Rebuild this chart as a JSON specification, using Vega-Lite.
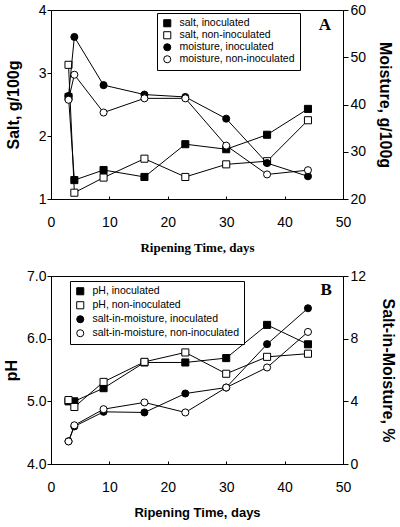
{
  "$schema": "https://vega.github.io/schema/vega-lite/v6.json",
  "padding": {"left": 3, "top": 2, "right": 0, "bottom": 0},
  "spacing": 13,
  "datasets": {
    "A": [
      {"day": 3, "measure": "salt", "series": "salt, inoculated", "value": 2.62},
      {"day": 4, "measure": "salt", "series": "salt, inoculated", "value": 1.30},
      {"day": 9, "measure": "salt", "series": "salt, inoculated", "value": 1.46},
      {"day": 16, "measure": "salt", "series": "salt, inoculated", "value": 1.35},
      {"day": 23, "measure": "salt", "series": "salt, inoculated", "value": 1.87},
      {"day": 30, "measure": "salt", "series": "salt, inoculated", "value": 1.79},
      {"day": 37, "measure": "salt", "series": "salt, inoculated", "value": 2.02},
      {"day": 44, "measure": "salt", "series": "salt, inoculated", "value": 2.43},
      {"day": 3, "measure": "salt", "series": "salt, non-inoculated", "value": 3.13},
      {"day": 4, "measure": "salt", "series": "salt, non-inoculated", "value": 1.10},
      {"day": 9, "measure": "salt", "series": "salt, non-inoculated", "value": 1.34},
      {"day": 16, "measure": "salt", "series": "salt, non-inoculated", "value": 1.64},
      {"day": 23, "measure": "salt", "series": "salt, non-inoculated", "value": 1.35},
      {"day": 30, "measure": "salt", "series": "salt, non-inoculated", "value": 1.55},
      {"day": 37, "measure": "salt", "series": "salt, non-inoculated", "value": 1.60},
      {"day": 44, "measure": "salt", "series": "salt, non-inoculated", "value": 2.25},
      {"day": 3, "measure": "moisture", "series": "moisture, inoculated", "value": 41.8},
      {"day": 4, "measure": "moisture", "series": "moisture, inoculated", "value": 54.3},
      {"day": 9, "measure": "moisture", "series": "moisture, inoculated", "value": 44.1},
      {"day": 16, "measure": "moisture", "series": "moisture, inoculated", "value": 42.1},
      {"day": 23, "measure": "moisture", "series": "moisture, inoculated", "value": 41.6},
      {"day": 30, "measure": "moisture", "series": "moisture, inoculated", "value": 37.0},
      {"day": 37, "measure": "moisture", "series": "moisture, inoculated", "value": 27.6},
      {"day": 44, "measure": "moisture", "series": "moisture, inoculated", "value": 24.8},
      {"day": 3, "measure": "moisture", "series": "moisture, non-inoculated", "value": 41.0},
      {"day": 4, "measure": "moisture", "series": "moisture, non-inoculated", "value": 46.3},
      {"day": 9, "measure": "moisture", "series": "moisture, non-inoculated", "value": 38.3},
      {"day": 16, "measure": "moisture", "series": "moisture, non-inoculated", "value": 41.3},
      {"day": 23, "measure": "moisture", "series": "moisture, non-inoculated", "value": 41.3},
      {"day": 30, "measure": "moisture", "series": "moisture, non-inoculated", "value": 31.3},
      {"day": 37, "measure": "moisture", "series": "moisture, non-inoculated", "value": 25.2},
      {"day": 44, "measure": "moisture", "series": "moisture, non-inoculated", "value": 26.1}
    ],
    "B": [
      {"day": 3, "measure": "pH", "series": "pH, inoculated", "value": 5.00},
      {"day": 4, "measure": "pH", "series": "pH, inoculated", "value": 5.00},
      {"day": 9, "measure": "pH", "series": "pH, inoculated", "value": 5.21},
      {"day": 16, "measure": "pH", "series": "pH, inoculated", "value": 5.62},
      {"day": 23, "measure": "pH", "series": "pH, inoculated", "value": 5.62},
      {"day": 30, "measure": "pH", "series": "pH, inoculated", "value": 5.69},
      {"day": 37, "measure": "pH", "series": "pH, inoculated", "value": 6.22},
      {"day": 44, "measure": "pH", "series": "pH, inoculated", "value": 5.91},
      {"day": 3, "measure": "pH", "series": "pH, non-inoculated", "value": 5.02},
      {"day": 4, "measure": "pH", "series": "pH, non-inoculated", "value": 4.91},
      {"day": 9, "measure": "pH", "series": "pH, non-inoculated", "value": 5.31},
      {"day": 16, "measure": "pH", "series": "pH, non-inoculated", "value": 5.63},
      {"day": 23, "measure": "pH", "series": "pH, non-inoculated", "value": 5.78},
      {"day": 30, "measure": "pH", "series": "pH, non-inoculated", "value": 5.44},
      {"day": 37, "measure": "pH", "series": "pH, non-inoculated", "value": 5.71},
      {"day": 44, "measure": "pH", "series": "pH, non-inoculated", "value": 5.76},
      {"day": 3, "measure": "sim", "series": "salt-in-moisture, inoculated", "value": 1.45},
      {"day": 4, "measure": "sim", "series": "salt-in-moisture, inoculated", "value": 2.40},
      {"day": 9, "measure": "sim", "series": "salt-in-moisture, inoculated", "value": 3.33},
      {"day": 16, "measure": "sim", "series": "salt-in-moisture, inoculated", "value": 3.29},
      {"day": 23, "measure": "sim", "series": "salt-in-moisture, inoculated", "value": 4.50},
      {"day": 30, "measure": "sim", "series": "salt-in-moisture, inoculated", "value": 4.88},
      {"day": 37, "measure": "sim", "series": "salt-in-moisture, inoculated", "value": 7.65},
      {"day": 44, "measure": "sim", "series": "salt-in-moisture, inoculated", "value": 9.94},
      {"day": 3, "measure": "sim", "series": "salt-in-moisture, non-inoculated", "value": 1.44},
      {"day": 4, "measure": "sim", "series": "salt-in-moisture, non-inoculated", "value": 2.47},
      {"day": 9, "measure": "sim", "series": "salt-in-moisture, non-inoculated", "value": 3.50},
      {"day": 16, "measure": "sim", "series": "salt-in-moisture, non-inoculated", "value": 3.93},
      {"day": 23, "measure": "sim", "series": "salt-in-moisture, non-inoculated", "value": 3.29},
      {"day": 30, "measure": "sim", "series": "salt-in-moisture, non-inoculated", "value": 4.88},
      {"day": 37, "measure": "sim", "series": "salt-in-moisture, non-inoculated", "value": 6.16},
      {"day": 44, "measure": "sim", "series": "salt-in-moisture, non-inoculated", "value": 8.43}
    ]
  },
  "vconcat": [
    {
      "width": 292,
      "height": 189,
      "data": {"name": "A"},
      "layer": [
        {
          "transform": [{"filter": "datum.measure === 'salt'"}],
          "layer": [
            {
              "mark": {"type": "line", "color": "black", "strokeWidth": 1},
              "encoding": {
                "x": {"field": "day", "type": "quantitative", "scale": {"domain": [0, 50], "nice": false}, "title": "Ripening Time, days",
                  "axis": {"values": [0, 5, 10, 15, 20, 25, 30, 35, 40, 45, 50], "format": "d", "labelExpr": "datum.value % 10 === 0 ? datum.label : ''", "tickSize": -3, "labelPadding": 19, "titleFont": "Liberation Serif", "titleFontSize": 13, "titlePadding": 12}},
                "y": {"field": "value", "type": "quantitative", "scale": {"domain": [1, 4], "nice": false, "zero": false}, "title": "Salt, g/100g",
                  "axis": {"orient": "left", "values": [1, 1.5, 2, 2.5, 3, 3.5, 4], "format": "d", "labelExpr": "datum.value % 1 === 0 ? datum.label : ''", "titlePadding": 17}},
                "detail": {"field": "series"}
              }
            },
            {
              "mark": {"type": "point", "filled": true, "strokeWidth": 1, "opacity": 1},
              "encoding": {
                "x": {"field": "day", "type": "quantitative"},
                "y": {"field": "value", "type": "quantitative"},
                "shape": {"field": "series", "type": "nominal", "scale": {"domain": ["salt, inoculated", "salt, non-inoculated", "moisture, inoculated", "moisture, non-inoculated"], "range": ["square", "square", "circle", "circle"]}, "legend": {"title": null, "orient": "none", "legendX": 106, "legendY": 3, "rowPadding": 0, "padding": 5}},
                "fill": {"field": "series", "type": "nominal", "scale": {"domain": ["salt, inoculated", "salt, non-inoculated", "moisture, inoculated", "moisture, non-inoculated"], "range": ["black", "white", "black", "white"]}, "legend": {"title": null, "orient": "none", "legendX": 106, "legendY": 3, "rowPadding": 0, "padding": 5}},
                "stroke": {"field": "series", "type": "nominal", "scale": {"domain": ["salt, inoculated", "salt, non-inoculated", "moisture, inoculated", "moisture, non-inoculated"], "range": ["black", "black", "black", "black"]}, "legend": {"title": null, "orient": "none", "legendX": 106, "legendY": 3, "rowPadding": 0, "padding": 5}},
                "size": {"field": "series", "type": "nominal", "scale": {"domain": ["salt, inoculated", "salt, non-inoculated", "moisture, inoculated", "moisture, non-inoculated"], "range": [50, 50, 70, 70]}, "legend": {"title": null, "orient": "none", "legendX": 106, "legendY": 3, "rowPadding": 0, "padding": 5}}
              }
            },
            {
              "data": {"values": [{"label": "A"}]},
              "mark": {"type": "text", "font": "Liberation Serif", "fontWeight": "bold", "fontSize": 17, "color": "black", "align": "center", "baseline": "middle"},
              "encoding": {
                "x": {"datum": 46.9, "type": "quantitative"},
                "y": {"datum": 3.76, "type": "quantitative"},
                "text": {"field": "label"}
              }
            }
          ]
        },
        {
          "transform": [{"filter": "datum.measure === 'moisture'"}],
          "layer": [
            {
              "mark": {"type": "line", "color": "black", "strokeWidth": 1},
              "encoding": {
                "x": {"field": "day", "type": "quantitative"},
                "y": {"field": "value", "type": "quantitative", "scale": {"domain": [20, 60], "nice": false, "zero": false}, "title": "Moisture, g/100g",
                  "axis": {"orient": "right", "values": [20, 25, 30, 35, 40, 45, 50, 55, 60], "labelExpr": "datum.value % 10 === 0 ? datum.label : ''", "tickSize": 5, "labelPadding": 2, "titlePadding": 11}},
                "detail": {"field": "series"}
              }
            },
            {
              "mark": {"type": "point", "filled": true, "strokeWidth": 1, "opacity": 1},
              "encoding": {
                "x": {"field": "day", "type": "quantitative"},
                "y": {"field": "value", "type": "quantitative"},
                "shape": {"field": "series", "type": "nominal", "scale": {"domain": ["salt, inoculated", "salt, non-inoculated", "moisture, inoculated", "moisture, non-inoculated"], "range": ["square", "square", "circle", "circle"]}, "legend": {"title": null, "orient": "none", "legendX": 106, "legendY": 3, "rowPadding": 0, "padding": 5}},
                "fill": {"field": "series", "type": "nominal", "scale": {"domain": ["salt, inoculated", "salt, non-inoculated", "moisture, inoculated", "moisture, non-inoculated"], "range": ["black", "white", "black", "white"]}, "legend": {"title": null, "orient": "none", "legendX": 106, "legendY": 3, "rowPadding": 0, "padding": 5}},
                "stroke": {"field": "series", "type": "nominal", "scale": {"domain": ["salt, inoculated", "salt, non-inoculated", "moisture, inoculated", "moisture, non-inoculated"], "range": ["black", "black", "black", "black"]}, "legend": {"title": null, "orient": "none", "legendX": 106, "legendY": 3, "rowPadding": 0, "padding": 5}},
                "size": {"field": "series", "type": "nominal", "scale": {"domain": ["salt, inoculated", "salt, non-inoculated", "moisture, inoculated", "moisture, non-inoculated"], "range": [50, 50, 70, 70]}, "legend": {"title": null, "orient": "none", "legendX": 106, "legendY": 3, "rowPadding": 0, "padding": 5}}
              }
            }
          ]
        }
      ],
      "resolve": {"scale": {"y": "independent"}}
    },
    {
      "width": 292,
      "height": 188,
      "data": {"name": "B"},
      "layer": [
        {
          "transform": [{"filter": "datum.measure === 'pH'"}],
          "layer": [
            {
              "mark": {"type": "line", "color": "black", "strokeWidth": 1},
              "encoding": {
                "x": {"field": "day", "type": "quantitative", "scale": {"domain": [0, 50], "nice": false}, "title": "Ripening Time, days",
                  "axis": {"values": [0, 5, 10, 15, 20, 25, 30, 35, 40, 45, 50], "format": "d", "labelExpr": "datum.value % 10 === 0 ? datum.label : ''", "tickSize": -3, "labelPadding": 19, "titleFont": "Liberation Sans", "titleFontSize": 13, "titlePadding": 12}},
                "y": {"field": "value", "type": "quantitative", "scale": {"domain": [4, 7], "nice": false, "zero": false}, "title": "pH",
                  "axis": {"orient": "left", "values": [4, 4.5, 5, 5.5, 6, 6.5, 7], "format": ".1f", "titlePadding": 7}},
                "detail": {"field": "series"}
              }
            },
            {
              "mark": {"type": "point", "filled": true, "strokeWidth": 1, "opacity": 1},
              "encoding": {
                "x": {"field": "day", "type": "quantitative"},
                "y": {"field": "value", "type": "quantitative"},
                "shape": {"field": "series", "type": "nominal", "scale": {"domain": ["pH, inoculated", "pH, non-inoculated", "salt-in-moisture, inoculated", "salt-in-moisture, non-inoculated"], "range": ["square", "square", "circle", "circle"]}, "legend": {"title": null, "orient": "none", "legendX": 19, "legendY": 5, "rowPadding": 2, "padding": 5}},
                "fill": {"field": "series", "type": "nominal", "scale": {"domain": ["pH, inoculated", "pH, non-inoculated", "salt-in-moisture, inoculated", "salt-in-moisture, non-inoculated"], "range": ["black", "white", "black", "white"]}, "legend": {"title": null, "orient": "none", "legendX": 19, "legendY": 5, "rowPadding": 2, "padding": 5}},
                "stroke": {"field": "series", "type": "nominal", "scale": {"domain": ["pH, inoculated", "pH, non-inoculated", "salt-in-moisture, inoculated", "salt-in-moisture, non-inoculated"], "range": ["black", "black", "black", "black"]}, "legend": {"title": null, "orient": "none", "legendX": 19, "legendY": 5, "rowPadding": 2, "padding": 5}},
                "size": {"field": "series", "type": "nominal", "scale": {"domain": ["pH, inoculated", "pH, non-inoculated", "salt-in-moisture, inoculated", "salt-in-moisture, non-inoculated"], "range": [50, 50, 70, 70]}, "legend": {"title": null, "orient": "none", "legendX": 19, "legendY": 5, "rowPadding": 2, "padding": 5}}
              }
            },
            {
              "data": {"values": [{"label": "B"}]},
              "mark": {"type": "text", "font": "Liberation Serif", "fontWeight": "bold", "fontSize": 17, "color": "black", "align": "center", "baseline": "middle"},
              "encoding": {
                "x": {"datum": 47.1, "type": "quantitative"},
                "y": {"datum": 6.77, "type": "quantitative"},
                "text": {"field": "label"}
              }
            }
          ]
        },
        {
          "transform": [{"filter": "datum.measure === 'sim'"}],
          "layer": [
            {
              "mark": {"type": "line", "color": "black", "strokeWidth": 1},
              "encoding": {
                "x": {"field": "day", "type": "quantitative"},
                "y": {"field": "value", "type": "quantitative", "scale": {"domain": [0, 12], "nice": false}, "title": "Salt-in-Moisture, %",
                  "axis": {"orient": "right", "values": [0, 1, 2, 3, 4, 5, 6, 7, 8, 9, 10, 11, 12], "labelExpr": "datum.value % 2 === 0 ? datum.label : ''", "tickSize": 5, "labelPadding": 2, "titlePadding": 14}},
                "detail": {"field": "series"}
              }
            },
            {
              "mark": {"type": "point", "filled": true, "strokeWidth": 1, "opacity": 1},
              "encoding": {
                "x": {"field": "day", "type": "quantitative"},
                "y": {"field": "value", "type": "quantitative"},
                "shape": {"field": "series", "type": "nominal", "scale": {"domain": ["pH, inoculated", "pH, non-inoculated", "salt-in-moisture, inoculated", "salt-in-moisture, non-inoculated"], "range": ["square", "square", "circle", "circle"]}, "legend": {"title": null, "orient": "none", "legendX": 19, "legendY": 5, "rowPadding": 2, "padding": 5}},
                "fill": {"field": "series", "type": "nominal", "scale": {"domain": ["pH, inoculated", "pH, non-inoculated", "salt-in-moisture, inoculated", "salt-in-moisture, non-inoculated"], "range": ["black", "white", "black", "white"]}, "legend": {"title": null, "orient": "none", "legendX": 19, "legendY": 5, "rowPadding": 2, "padding": 5}},
                "stroke": {"field": "series", "type": "nominal", "scale": {"domain": ["pH, inoculated", "pH, non-inoculated", "salt-in-moisture, inoculated", "salt-in-moisture, non-inoculated"], "range": ["black", "black", "black", "black"]}, "legend": {"title": null, "orient": "none", "legendX": 19, "legendY": 5, "rowPadding": 2, "padding": 5}},
                "size": {"field": "series", "type": "nominal", "scale": {"domain": ["pH, inoculated", "pH, non-inoculated", "salt-in-moisture, inoculated", "salt-in-moisture, non-inoculated"], "range": [50, 50, 70, 70]}, "legend": {"title": null, "orient": "none", "legendX": 19, "legendY": 5, "rowPadding": 2, "padding": 5}}
              }
            }
          ]
        }
      ],
      "resolve": {"scale": {"y": "independent"}}
    }
  ],
  "resolve": {"scale": {"shape": "independent", "fill": "independent", "stroke": "independent", "size": "independent"}},
  "config": {
    "view": {"stroke": "black", "strokeWidth": 1},
    "axis": {
      "grid": false,
      "domainColor": "black",
      "tickColor": "black",
      "labelColor": "black",
      "titleColor": "black",
      "labelFont": "Liberation Sans",
      "labelFontSize": 14,
      "titleFont": "Liberation Sans",
      "titleFontSize": 16,
      "titleFontWeight": "bold",
      "labelOverlap": false,
      "labelFlush": false,
      "tickSize": 4,
      "labelPadding": 1
    },
    "legend": {
      "labelFont": "Liberation Sans",
      "labelFontSize": 10.5,
      "labelColor": "black",
      "strokeColor": "black",
      "fillColor": "white",
      "padding": 5,
      "symbolStrokeColor": "black",
      "symbolStrokeWidth": 1,
      "labelOffset": 7
    }
  }
}
